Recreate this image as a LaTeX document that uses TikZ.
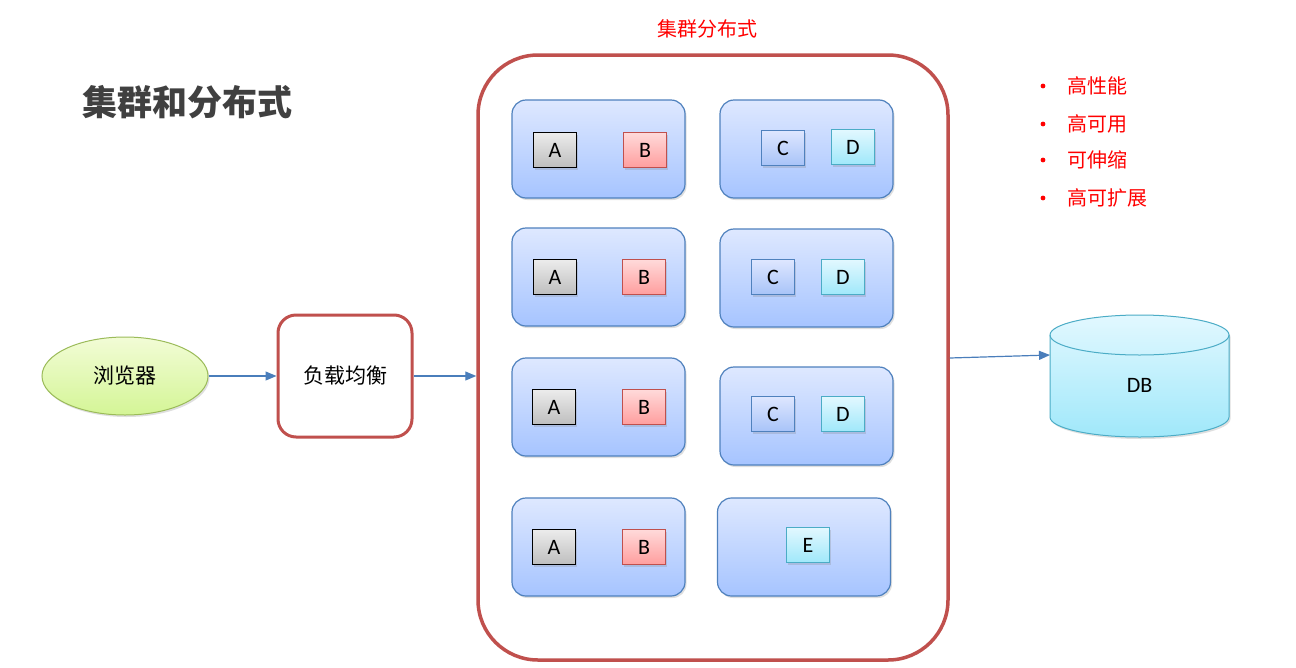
\documentclass[tikz,border=0pt]{standalone}
\usepackage{fontspec}
\setmainfont{Carlito}
\newfontfamily\cjk{Noto Sans CJK SC}
\usetikzlibrary{shadows,arrows.meta,shapes.geometric}
\definecolor{redb}{HTML}{C0504D}
\definecolor{blueb}{HTML}{4F81BD}
\definecolor{cyanb}{HTML}{4BACC6}
\definecolor{greenb}{HTML}{9BBB59}
\definecolor{arrowc}{HTML}{4A7EBB}
\definecolor{titlec}{HTML}{404040}
\tikzset{
  shad/.style={drop shadow={opacity=0.25,shadow xshift=1.5pt,shadow yshift=-2pt}},
  server/.style={draw=blueb,line width=1.2pt,rounded corners=14pt,minimum width=173pt,minimum height=98pt,top color={rgb,255:red,222;green,232;blue,255},bottom color={rgb,255:red,166;green,196;blue,255},shad},
  ibox/.style={minimum width=43pt,minimum height=35pt,inner sep=0pt,font=\fontsize{22}{26}\selectfont,shad},
  abox/.style={ibox,draw=black,line width=0.8pt,top color={rgb,255:red,236;green,236;blue,236},bottom color={rgb,255:red,190;green,190;blue,190}},
  bbox/.style={ibox,draw=redb,line width=0.8pt,top color={rgb,255:red,255;green,218;blue,218},bottom color={rgb,255:red,255;green,158;blue,158}},
  cbox/.style={ibox,draw=blueb,line width=0.8pt,top color={rgb,255:red,222;green,230;blue,255},bottom color={rgb,255:red,168;green,196;blue,248}},
  dbox/.style={ibox,draw=cyanb,line width=0.8pt,top color={rgb,255:red,226;green,248;blue,255},bottom color={rgb,255:red,160;green,232;blue,250}},
  conn/.style={draw=arrowc,line width=1.2pt,-{Triangle[length=11pt,width=9pt]}},
  redtxt/.style={text=red,font=\cjk\fontsize{20}{24}\selectfont},
}
\begin{document}
\begin{tikzpicture}[x=1pt,y=-1pt]
\useasboundingbox (0,0) rectangle (1296,667);
\fill[white] (0,0) rectangle (1296,667);
% title
\node[text=titlec,font=\cjk\bfseries\fontsize{35}{40}\selectfont] (title) at (187,102) {集群和分布式};
\node[redtxt] (ctitle) at (707,29) {集群分布式};
% bullets
\foreach \t/\yy [count=\i] in {高性能/86,高可用/124,可伸缩/160,高可扩展/198}{
  \fill[red] (1043,\yy) circle (2.4pt);
  \node[redtxt,anchor=west,inner sep=0pt] (b\i) at (1067,\yy) {\t};
}
% container
\node[draw=redb,line width=3.5pt,rounded corners=60pt,minimum width=470pt,minimum height=605pt] (cluster) at (713,357.5) {};
% servers
\node[server] (s1) at (598.5,149) {};
\node[server] (s2) at (806.5,149) {};
\node[server] (s3) at (598.5,277) {};
\node[server] (s4) at (806.5,278) {};
\node[server] (s5) at (598.5,407) {};
\node[server] (s6) at (806.5,416) {};
\node[server] (s7) at (598.5,547) {};
\node[server] (s8) at (804,547) {};
% inner boxes
\node[abox] (a1) at (555,150) {A};
\node[bbox] (bb1) at (645,150) {B};
\node[cbox] (c1) at (783,148) {C};
\node[dbox] (d1) at (853,147) {D};
\node[abox] (a2) at (555,277) {A};
\node[bbox] (bb2) at (644,277) {B};
\node[cbox] (c2) at (773,277) {C};
\node[dbox] (d2) at (843,277) {D};
\node[abox] (a3) at (554,407) {A};
\node[bbox] (bb3) at (644,407) {B};
\node[cbox] (c3) at (773,414) {C};
\node[dbox] (d3) at (843,414) {D};
\node[abox] (a4) at (554,547) {A};
\node[bbox] (bb4) at (644,547) {B};
\node[dbox] (e) at (808,545) {E};
% browser
\node[ellipse,draw=greenb,line width=1pt,minimum width=166pt,minimum height=78pt,top color={rgb,255:red,242;green,252;blue,214},bottom color={rgb,255:red,212;green,245;blue,150},shad,font=\cjk\fontsize{21}{25}\selectfont] (browser) at (125,376) {浏览器};
% load balancer
\node[draw=redb,line width=3pt,rounded corners=18pt,minimum width=134pt,minimum height=122pt,fill=white,font=\cjk\fontsize{21}{25}\selectfont] (lb) at (345,376) {负载均衡};
% DB cylinder
\path[shad,top color={rgb,255:red,226;green,248;blue,255},bottom color={rgb,255:red,160;green,232;blue,250},draw=cyanb,line width=1pt]
  (1050,335) -- (1050,417) arc[start angle=180,end angle=360,x radius=89.5pt,y radius=20pt] -- (1229,335) arc[start angle=0,end angle=180,x radius=89.5pt,y radius=20pt] -- cycle;
\draw[cyanb,line width=1pt] (1050,335) arc[start angle=180,end angle=360,x radius=89.5pt,y radius=20pt];
\node[minimum width=179pt,minimum height=122pt] (db) at (1139.5,376) {};
\node[font=\fontsize{22}{26}\selectfont] (dblabel) at (1139.5,385) {DB};
\coordinate (dbin) at (1050,355);
\coordinate (clout) at ([yshift=-0.5pt]cluster.east);
% connectors
\draw[conn] (browser.east) -- (lb.west);
\draw[conn] (lb.east) -- (lb.east -| cluster.west);
\draw[conn] (clout) -- (dbin);
\end{tikzpicture}
\end{document}
